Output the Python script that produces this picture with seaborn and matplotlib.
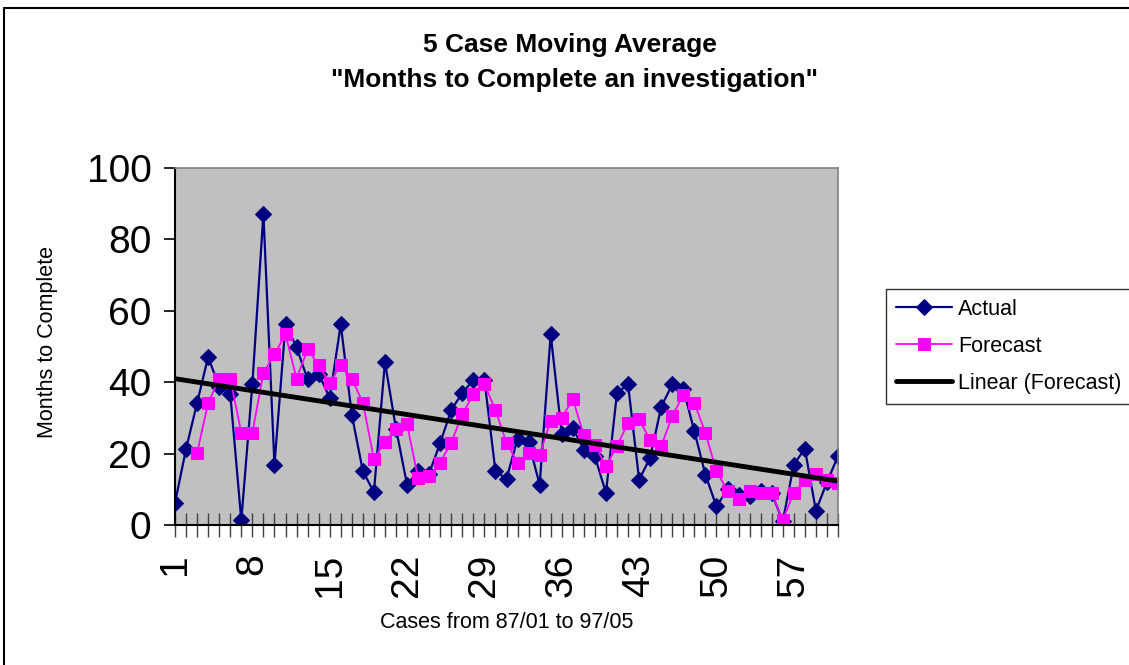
# 5 case moving average - months to complete an investigation
import numpy as np
import pandas as pd
import matplotlib
matplotlib.use("Agg")
import matplotlib.pyplot as plt
from matplotlib.patches import Rectangle
import seaborn as sns

# --- dados --- #
cases = list(range(1, 62))
actual = [6.2, 21.3, 34.2, 47.1, 38.7, 36.8, 1.3, 39.4, 87.2, 16.9,
          56.2, 49.8, 40.8, 42.4, 35.6, 56.2, 30.9, 15.1, 9.2, 45.6,
          27.0, 11.3, 15.1, 14.4, 23.0, 32.2, 37.0, 40.6, 40.7, 15.1,
          12.9, 24.2, 23.2, 11.3, 53.4, 25.5, 27.2, 21.1, 19.2, 9.0,
          37.0, 39.4, 12.7, 18.8, 33.1, 39.4, 38.1, 26.3, 14.1, 5.2,
          10.0, 8.5, 8.0, 9.5, 9.0, 1.0, 16.9, 21.4, 4.0, 12.0,
          19.3]
forecast = [np.nan, np.nan, 20.2, 34.2, 41.0, 41.0, 25.8, 25.8, 42.6, 47.8,
            53.4, 41.0, 49.2, 44.9, 39.7, 44.9, 41.0, 34.3, 18.5, 23.2,
            27.0, 28.2, 13.1, 13.7, 17.5, 23.1, 31.0, 36.6, 39.4, 32.2,
            23.0, 17.5, 20.2, 19.7, 29.2, 29.9, 35.3, 25.1, 22.5, 16.4,
            22.1, 28.6, 29.7, 23.7, 22.1, 30.5, 36.4, 34.2, 25.8, 15.1,
            9.6, 7.3, 9.5, 9.1, 9.1, 1.3, 9.1, 12.5, 14.3, 12.5,
            11.9]
tick_cases = [1, 8, 15, 22, 29, 36, 43, 50, 57]
y_ticks = [0, 20, 40, 60, 80, 100]

df = pd.DataFrame({"case": cases, "Actual": actual, "Forecast": forecast})
df_fc = df.dropna(subset=["Forecast"])

sns.set_theme(style="white")
plt.rcParams["font.family"] = ["Liberation Sans", "DejaVu Sans"]
plt.rcParams["text.color"] = "black"
plt.rcParams["axes.labelcolor"] = "black"
plt.rcParams["xtick.color"] = "black"
plt.rcParams["ytick.color"] = "black"

W, H = 1129, 665
fig = plt.figure(figsize=(W / 100, H / 100), dpi=100)
fig.patch.set_facecolor("white")

# moldura externa do gráfico
fig.patches.append(Rectangle((4 / W, -0.05), 1.2, 1 - 8 / H + 0.05,
                             transform=fig.transFigure, fill=False,
                             edgecolor="black", linewidth=1.5))

ax = fig.add_axes([175 / W, 1 - 525 / H, (838 - 175) / W, (525 - 168) / H])
ax.set_facecolor("#C0C0C0")
ax.set_xlim(1, 61)
ax.set_ylim(0, 100)

sns.lineplot(data=df, x="case", y="Actual", ax=ax, color="#000080",
             marker="D", markersize=8, markeredgecolor="#000080",
             linewidth=1.6, label="Actual")
sns.lineplot(data=df_fc, x="case", y="Forecast", ax=ax, color="#FF00FF",
             marker="s", markersize=9, markeredgecolor="#FF00FF",
             linewidth=1.3, label="Forecast")
sns.regplot(data=df_fc, x="case", y="Forecast", ax=ax, scatter=False,
            ci=None, truncate=False, color="black",
            label="Linear (Forecast)", line_kws={"linewidth": 3.5})

ax.set_xlim(1, 61)
ax.set_ylim(0, 100)

# eixos
ax.set_xticks(cases)
ax.set_xticklabels([str(c) if c in tick_cases else "" for c in cases],
                   rotation=90)
ax.tick_params(axis="x", bottom=True, direction="inout", length=17,
               width=1, color="#404040", labelcolor="black", labelsize=28,
               pad=12)
ax.set_yticks(y_ticks)
ax.tick_params(axis="y", left=True, direction="out", length=8, width=1.2,
               color="black", labelcolor="black", labelsize=28, pad=9)

for side in ["top", "right"]:
    ax.spines[side].set_color("#808080")
    ax.spines[side].set_linewidth(1.2)
for side in ["left", "bottom"]:
    ax.spines[side].set_color("black")
    ax.spines[side].set_linewidth(1.5)

ax.set_xlabel("Cases from 87/01 to 97/05", fontsize=15.5, color="black")
ax.xaxis.set_label_coords(0.5, -0.244)
ax.set_ylabel("Months to Complete", fontsize=15.5, color="black")
ax.yaxis.set_label_coords(-0.176, 0.5126)

# título
fig.text(570 / W, 1 - 45 / H, "5 Case Moving Average", ha="center",
         va="center", fontsize=19, fontweight="bold", color="black")
fig.text(574 / W, 1 - 80 / H, '"Months to Complete an investigation"',
         ha="center", va="center", fontsize=19, fontweight="bold",
         color="black")

# legenda
handles, labels = ax.get_legend_handles_labels()
if ax.get_legend() is not None:
    ax.get_legend().remove()
leg = fig.legend(handles, labels, loc="upper left",
                 bbox_to_anchor=(886 / W, 1 - 289 / H), frameon=True,
                 fancybox=False, edgecolor="black", fontsize=15.5,
                 handlelength=2.6, handletextpad=0.3, labelspacing=0.75,
                 borderpad=0.45, borderaxespad=0, labelcolor="black")
leg.get_frame().set_linewidth(1.0)

fig.savefig("out.png", dpi=100)
